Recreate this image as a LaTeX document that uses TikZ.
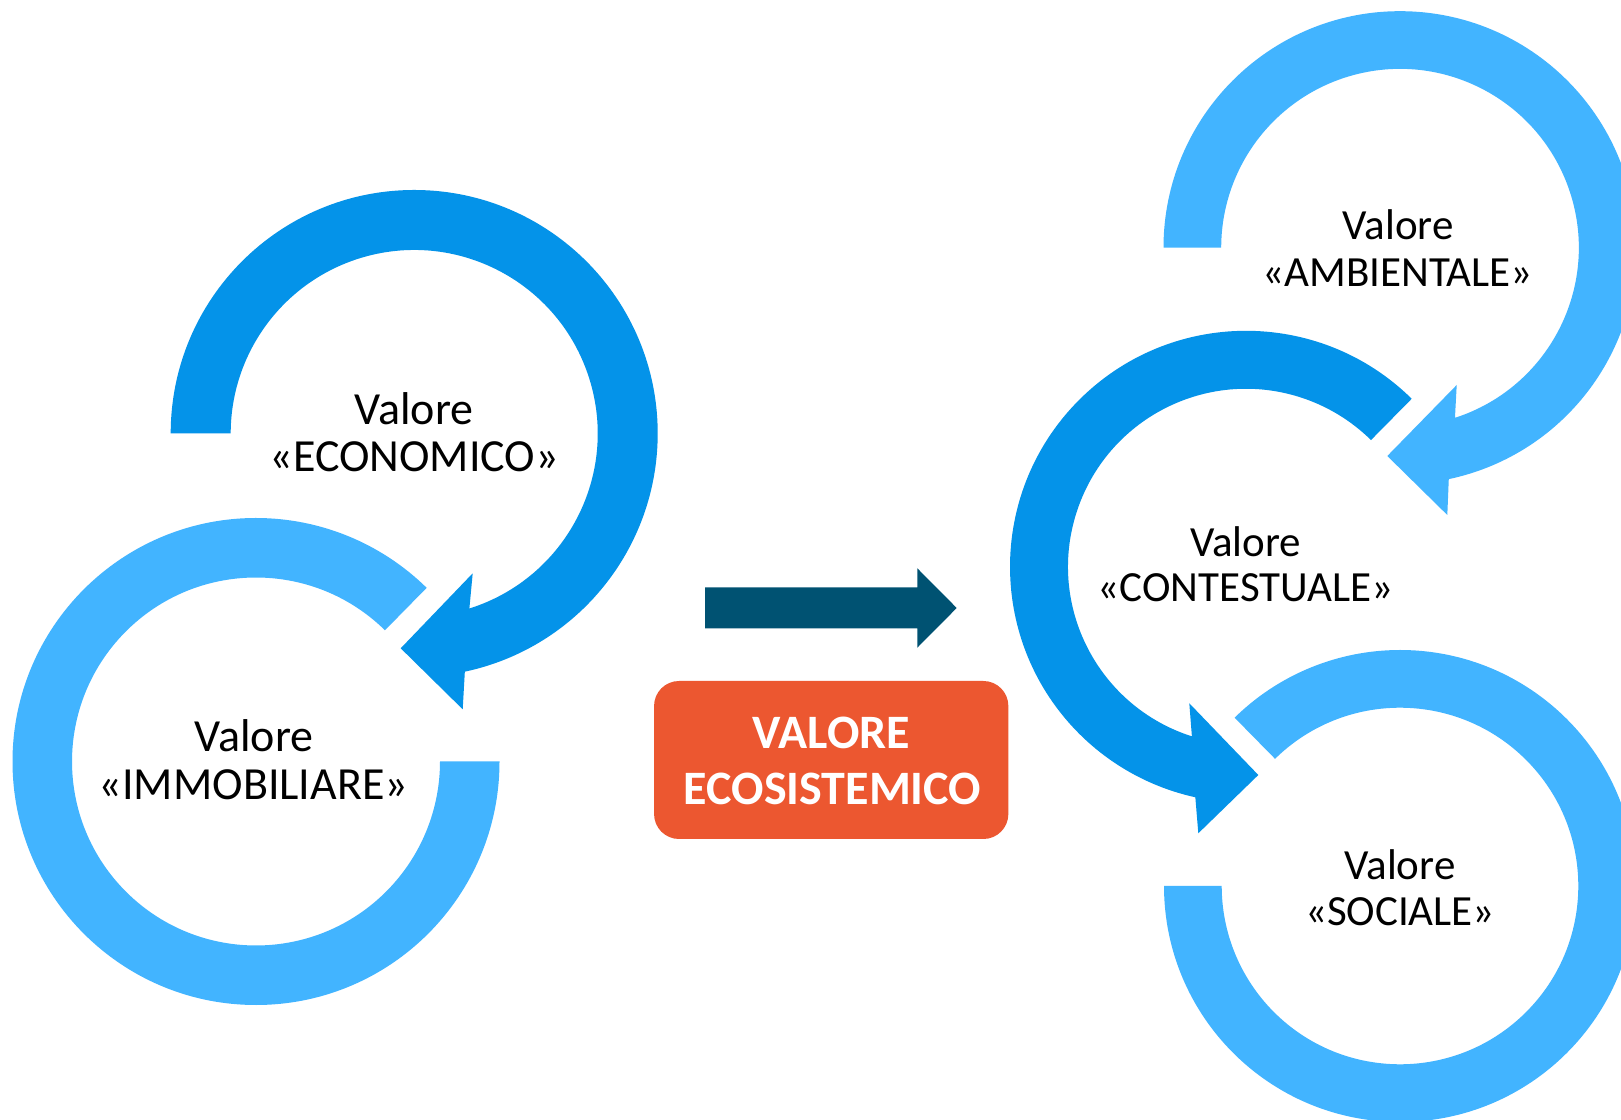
\documentclass[tikz,border=0pt]{standalone}
\usepackage{fontspec}
\setmainfont{Carlito}
\usetikzlibrary{calc}
\definecolor{darkblue}{RGB}{4,147,233}
\definecolor{lightblue}{RGB}{66,180,255}
\definecolor{arrowteal}{RGB}{0,82,114}
\definecolor{ecoorange}{RGB}{236,87,48}
\tikzset{
  lbl/.style={font=\fontsize{46}{46}\selectfont, anchor=base, inner sep=0pt, text=black},
  lblr/.style={lbl, font=\fontsize{43}{43}\selectfont},
  ecotxt/.style={font=\fontsize{48}{48}\selectfont\bfseries, text=white, anchor=base, inner sep=0pt},
  ecobox/.style={fill=ecoorange, rounded corners=25pt, minimum width=354.3pt, minimum height=158pt, inner sep=0pt}
}
\begin{document}
\begin{tikzpicture}[x=1pt,y=1pt]
\useasboundingbox (0,0) rectangle (1621,1119);
\clip (0,0) rectangle (1621,1119);
\fill[white] (0,0) rectangle (1621,1119);

\coordinate (E) at (414.2,685.5);
\coordinate (I) at (256,357.5);
\coordinate (A) at (1400,871.3);
\coordinate (C) at (1246,552.2);
\coordinate (S) at (1400,233);

% IMMOBILIARE ring
\fill[lightblue] ($(I)+(0:243.5)$) arc[start angle=0,end angle=-314.5,radius=243.5pt]
  -- ($(I)+(45.5:184)$) arc[start angle=45.5,end angle=360,radius=184pt] -- cycle;
% ECONOMICO arrow
\fill[darkblue] ($(E)+(180:243.5)$) arc[start angle=180,end angle=-78,radius=243.5pt]
  -- (462.7,409.7) -- (400.7,470.7) -- (472.7,545.7)
  -- ($(E)+(-72.5:183.5)$) arc[start angle=-72.5,end angle=180,radius=183.5pt] -- cycle;
% SOCIALE ring
\fill[lightblue] ($(S)+(180:236)$) arc[start angle=180,end angle=494.5,radius=236pt]
  -- ($(S)+(134.5:178.3)$) arc[start angle=134.5,end angle=-180,radius=178.3pt] -- cycle;
% AMBIENTALE arrow
\fill[lightblue] ($(A)+(180:236.5)$) arc[start angle=180,end angle=-78.1,radius=236.5pt]
  -- (1447.3,604) -- (1387.3,663) -- (1456.7,734)
  -- ($(A)+(-72.1:178.8)$) arc[start angle=-72.1,end angle=180,radius=178.8pt] -- cycle;
% CONTESTUALE arrow
\fill[darkblue] ($(C)+(45.4:236)$) arc[start angle=45.4,end angle=257.6,radius=236pt]
  -- (1198.3,285.7) -- (1258.3,344) -- (1189.3,415.7)
  -- ($(C)+(252.3:178)$) arc[start angle=252.3,end angle=45.4,radius=178pt] -- cycle;

% middle block arrow
\fill[arrowteal] (705,490.7) -- (917.3,490.7) -- (917.3,471.3) -- (956.7,511)
  -- (917.3,550.7) -- (917.3,531.7) -- (705,531.7) -- cycle;

% orange box
\node[ecobox] (eco) at (831.2,359) {};
\node[ecotxt] (eco1) at (831.5,370.7) {VALORE};
\node[ecotxt] (eco2) at (832.5,314) {ECOSISTEMICO};

% labels
\node[lbl] (e1) at (414.2,694) {Valore};
\node[lbl] (e2) at (414.2,647.3) {«ECONOMICO»};
\node[lbl] (i1) at (254,367.3) {Valore};
\node[lbl] (i2) at (253.5,319) {«IMMOBILIARE»};
\node[lblr] (c1) at (1245.5,562.3) {Valore};
\node[lblr] (c2) at (1245.5,517.3) {«CONTESTUALE»};
\node[lblr] (a1) at (1398.3,879) {Valore};
\node[lblr] (a2) at (1397.5,832.3) {«AMBIENTALE»};
\node[lblr] (s1) at (1400,239) {Valore};
\node[lblr] (s2) at (1400,193.5) {«SOCIALE»};
\end{tikzpicture}
\end{document}
